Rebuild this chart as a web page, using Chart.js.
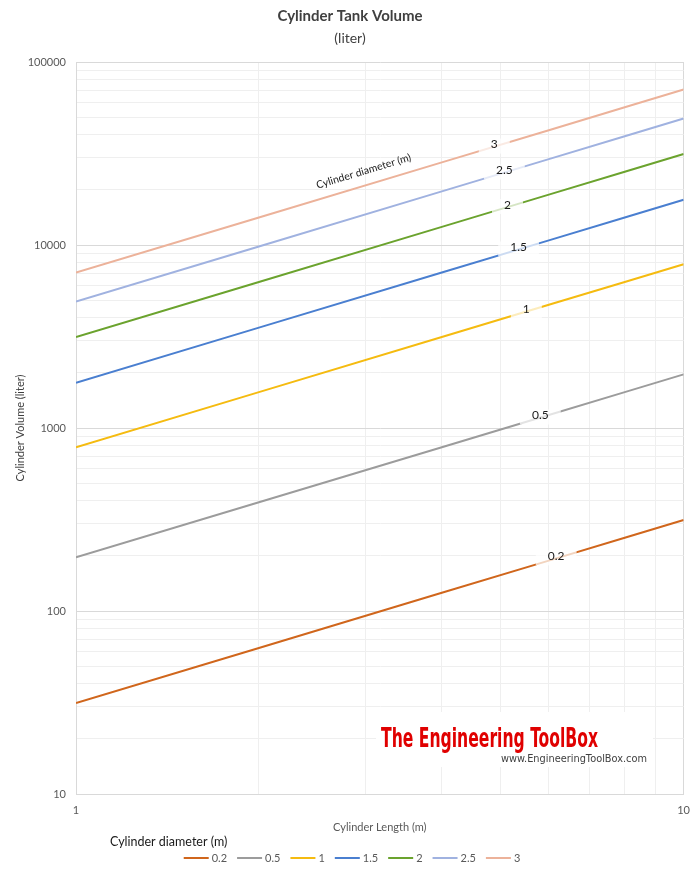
<!DOCTYPE html>
<html><head><meta charset="utf-8">
<script src="https://cdn.jsdelivr.net/npm/chart.js@4.4.1/dist/chart.umd.min.js"></script>
<style>html,body{margin:0;padding:0;background:#fff}#wrap{width:700px;height:875px}</style>
</head><body><div id="wrap"><canvas id="c" width="700" height="875"></canvas></div>
<script>
// ---- data ----
const lengths = [1, 2, 4, 6, 8, 10];              // cylinder length (m)
const diameters = ['0.2', '0.5', '1', '1.5', '2', '2.5', '3'];
const vol_02 = [31.4, 62.8, 125.7, 188.5, 251.3, 314.2];
const vol_05 = [196.3, 392.7, 785.4, 1178, 1571, 1963];
const vol_1  = [785.4, 1571, 3142, 4712, 6283, 7854];
const vol_15 = [1767, 3534, 7069, 10603, 14137, 17671];
const vol_2  = [3142, 6283, 12566, 18850, 25133, 31416];
const vol_25 = [4909, 9817, 19635, 29452, 39270, 49087];
const vol_3  = [7069, 14137, 28274, 42412, 56549, 70686];
const seriesValues = [vol_02, vol_05, vol_1, vol_15, vol_2, vol_25, vol_3];
const labelAtLength = [6.17, 5.81, 5.51, 5.35, 5.13, 5.07, 4.88];
const yTickLabels = [10, 100, 1000, 10000, 100000];
const xTickLabels = [1, 10];
const gridMultipliers = [1, 2, 3, 4, 5, 6, 7, 8, 9];
const colors = ['#d0661c', '#9c9c9c', '#f5bb10', '#4a7fd0', '#6ba32e', '#a0b2e0', '#ecb29a'];

const FONT = "Lato, 'Open Sans', 'Liberation Sans', sans-serif";
const isPow10 = v => Math.abs(Math.log10(v) - Math.round(Math.log10(v))) < 1e-9;

function decadeTicks(decades) {
  const out = [];
  for (let i = 0; i < decades.length - 1; i++)
    gridMultipliers.forEach(m => out.push({value: decades[i] * m}));
  out.push({value: decades[decades.length - 1]});
  return out;
}

function lineYAt(meta, px) {
  const pts = meta.data;
  for (let i = 0; i < pts.length - 1; i++) {
    const a = pts[i], b = pts[i + 1];
    if (px >= a.x && px <= b.x) {
      const t = (px - a.x) / (b.x - a.x);
      return a.y + t * (b.y - a.y);
    }
  }
  return pts[pts.length - 1].y;
}

const overlay = {
  id: 'overlay',
  afterDatasetsDraw(chart) {
    const ctx = chart.ctx, xs = chart.scales.x;
    ctx.save();
    ctx.font = "12px " + FONT;
    ctx.textAlign = 'center';
    ctx.textBaseline = 'middle';
    chart.data.datasets.forEach((ds, i) => {
      const meta = chart.getDatasetMeta(i);
      const px = xs.getPixelForValue(labelAtLength[i]);
      const py = lineYAt(meta, px);
      const w = ctx.measureText(ds.label).width + 24;
      ctx.fillStyle = 'rgba(255,255,255,0.72)';
      ctx.fillRect(px - w / 2, py - 8, w, 15);
      ctx.fillStyle = '#1a1a1a';
      ctx.fillText(ds.label, px, py - 2);
    });
    const m3 = chart.getDatasetMeta(6);
    const p0 = m3.data[0], p1 = m3.data[m3.data.length - 1];
    const ang = Math.atan2(p1.y - p0.y, p1.x - p0.x);
    const cx = xs.getPixelForValue(3.02);
    const cy = lineYAt(m3, cx);
    ctx.translate(cx + 14 * Math.sin(ang), cy - 14 * Math.cos(ang));
    ctx.rotate(ang);
    ctx.font = "10.5px " + FONT;
    ctx.fillStyle = '#1a1a1a';
    ctx.fillText('Cylinder diameter (m)', 0, 0);
    ctx.restore();
  },
  afterDraw(chart) {
    const ctx = chart.ctx;
    ctx.save();
    ctx.textAlign = 'center';
    ctx.textBaseline = 'middle';
    ctx.fillStyle = '#404040';
    ctx.font = "bold 15px " + FONT;
    ctx.fillText('Cylinder Tank Volume', 350, 16);
    ctx.font = "14px " + FONT;
    ctx.fillText('(liter)', 350, 38);
    // watermark
    ctx.fillStyle = '#ffffff';
    ctx.fillRect(376, 712, 277, 55);
    ctx.save();
    ctx.font = "bold 27px 'Liberation Sans Narrow', 'DejaVu Sans Condensed', sans-serif";
    const tw = ctx.measureText('The Engineering ToolBox').width;
    ctx.translate(381, 740);
    ctx.scale(217 / tw, 1);
    ctx.textAlign = 'left';
    ctx.fillStyle = '#e00000';
    ctx.fillText('The Engineering ToolBox', 0, 0);
    ctx.restore();
    ctx.font = "10px 'DejaVu Sans', sans-serif";
    ctx.textAlign = 'left';
    ctx.fillStyle = '#404040';
    const uw = ctx.measureText('www.EngineeringToolBox.com').width;
    ctx.save();
    ctx.translate(501, 759);
    ctx.scale(146 / uw, 1);
    ctx.fillText('www.EngineeringToolBox.com', 0, 0);
    ctx.restore();
    // legend
    ctx.font = "12.5px " + FONT;
    ctx.fillStyle = '#1a1a1a';
    ctx.textAlign = 'left';
    ctx.fillText('Cylinder diameter (m)', 110, 842);
    ctx.font = "11px " + FONT;
    const items = chart.data.datasets.map(ds => ({label: ds.label, color: ds.borderColor, w: 25 + 3 + ctx.measureText(ds.label).width}));
    const gap = 10;
    const total = items.reduce((s, it) => s + it.w, 0) + gap * (items.length - 1);
    let x = 352 - total / 2;
    const y = 858;
    items.forEach(it => {
      ctx.fillStyle = it.color;
      ctx.fillRect(x, y - 1, 25, 2);
      ctx.fillStyle = '#595959';
      ctx.fillText(it.label, x + 28, y);
      x += it.w + gap;
    });
    ctx.restore();
  }
};

const datasets = seriesValues.map((vals, i) => ({
  label: diameters[i],
  data: lengths.map((l, j) => ({x: l, y: vals[j]})),
  borderColor: colors[i],
  backgroundColor: colors[i],
  borderWidth: 2,
  pointRadius: 0,
  tension: 0,
  fill: false
}));

new Chart(document.getElementById('c'), {
  type: 'line',
  data: {datasets},
  plugins: [overlay],
  options: {
    responsive: false,
    animation: false,
    devicePixelRatio: 1,
    layout: {padding: {top: 62, right: 14, bottom: 37, left: 0}},
    plugins: {legend: {display: false}, title: {display: false}, tooltip: {enabled: false}},
    scales: {
      x: {
        type: 'logarithmic', min: 1, max: 10,
        afterBuildTicks: s => { s.ticks = decadeTicks(xTickLabels); },
        afterFit: s => { s.height = 44; },
        border: {display: true, color: '#d9d9d9'},
        grid: {drawTicks: false, color: c => (c.tick && isPow10(c.tick.value)) ? '#d9d9d9' : '#efefef'},
        ticks: {
          autoSkip: false, maxRotation: 0, padding: 10, color: '#595959', font: {family: FONT, size: 11},
          callback: v => xTickLabels.includes(v) ? String(v) : ''
        },
        title: {display: true, text: 'Cylinder Length (m)', color: '#595959', font: {family: FONT, size: 11}, padding: {top: 4, bottom: 4}}
      },
      y: {
        type: 'logarithmic', min: 10, max: 100000,
        afterBuildTicks: s => { s.ticks = decadeTicks(yTickLabels); },
        afterFit: s => { s.width = 76; },
        border: {display: true, color: '#d9d9d9'},
        grid: {drawTicks: false, color: c => (c.tick && isPow10(c.tick.value)) ? '#d9d9d9' : '#efefef'},
        ticks: {
          autoSkip: false, padding: 10, color: '#595959', font: {family: FONT, size: 11},
          callback: v => yTickLabels.includes(v) ? String(v) : ''
        },
        title: {display: true, text: 'Cylinder Volume (liter)', color: '#404040', font: {family: FONT, size: 11}, padding: {top: 14, bottom: 4}}
      }
    }
  }
});
</script></body></html>
